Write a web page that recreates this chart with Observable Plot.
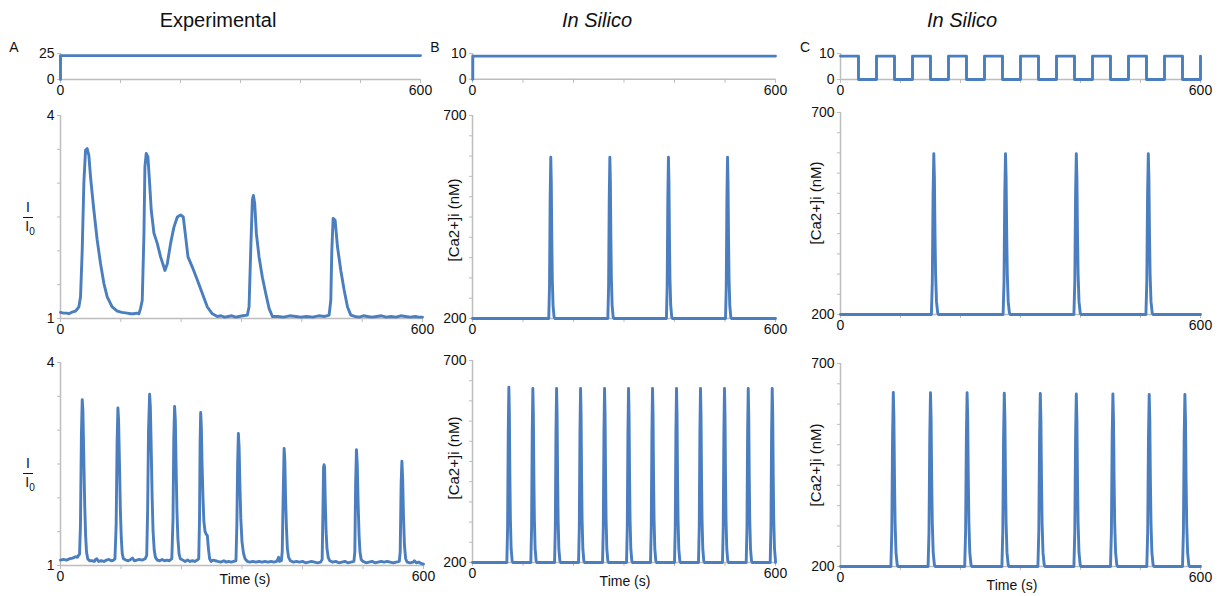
<!DOCTYPE html>
<html><head><meta charset="utf-8">
<script src="https://cdn.jsdelivr.net/npm/d3@7"></script>
<script src="https://cdn.jsdelivr.net/npm/@observablehq/plot@0.6"></script>
<style>
body{margin:0;background:#fff;font-family:"Liberation Sans",Arial,sans-serif;}
#root{position:relative;width:1218px;height:596px;overflow:hidden;background:#fff;}
.abs{position:absolute;color:#111;white-space:nowrap;line-height:1;}
</style></head><body><div id="root"></div>
<script>
// ---------- data ----------
const xTicks = [0, 100, 200, 300, 400, 500, 600];
const xTickLabels = [0, 600];

// stimulus rows [time (s), level]
const stimA = [[0, 0], [0, 23], [600, 23]];
const stimB = [[0, 0], [0.5, 0], [0.5, 9], [600, 9]];
const stimC = [[0, 9], [30, 0], [60, 9], [90, 0], [120, 9], [150, 0], [180, 9], [210, 0], [240, 9], [270, 0],
  [300, 9], [330, 0], [360, 9], [390, 0], [420, 9], [450, 0], [480, 9], [510, 0], [540, 9], [570, 0], [600, 9]];

// experimental traces I/I0 [time (s), ratio]
const expMid = [[0,1.09],[5,1.08],[11,1.08],[13.8,1.07],[18,1.09],[24.9,1.11],[30.4,1.17],[33.2,1.32],[36,2.01],[38.7,3.0],[41.5,3.49],[44.2,3.51],[47,3.41],[49.8,3.09],[55.3,2.6],[60.8,2.16],[66.4,1.81],[71.9,1.52],[77.4,1.32],[85.7,1.17],[94,1.11],[102,1.09],[110.6,1.08],[116,1.07],[121.7,1.07],[126,1.08],[130,1.07],[132.7,1.15],[135.5,1.27],[138.3,2.25],[139.9,3.24],[142.1,3.44],[144.9,3.39],[147.7,3.0],[150.4,2.6],[154.9,2.26],[160.4,2.11],[165.9,1.91],[173.1,1.71],[177,1.81],[182.5,2.11],[188,2.35],[193.6,2.5],[199.1,2.53],[203.5,2.5],[207.4,2.21],[211.3,1.91],[218.5,1.76],[226.8,1.57],[235.1,1.37],[243.4,1.17],[251.7,1.07],[260,1.03],[266,1.04],[272,1.02],[278,1.03],[284,1.04],[290,1.02],[296,1.03],[302,1.04],[309.7,1.05],[312.5,1.17],[315.3,2.01],[318,2.75],[319.7,2.82],[321.9,2.7],[324.7,2.25],[329.1,1.91],[334.6,1.61],[340.2,1.37],[345.7,1.15],[351.2,1.03],[360,1.03],[370,1.02],[380,1.04],[390,1.03],[398,1.02],[408,1.03],[418,1.02],[428,1.04],[438,1.03],[445.2,1.05],[448,1.27],[449.7,2.01],[451.9,2.48],[455.2,2.45],[459.1,2.06],[464.6,1.71],[470.1,1.42],[475.7,1.17],[481.2,1.05],[488,1.03],[495,1.02],[502,1.04],[508.8,1.03],[516,1.02],[524,1.03],[532,1.04],[540,1.02],[548,1.03],[556,1.02],[564,1.04],[572,1.03],[580,1.02],[588,1.03],[594,1.02],[600,1.02]];

const expBot = [[0,1.08],[5,1.09],[10,1.08],[15,1.10],[20,1.11],[25,1.13],[28,1.12],[30,1.15],[31.5,1.17],
[33,1.6],[34.5,2.9],[35.9,3.45],[37,3.3],[38.5,2.6],[40,1.9],[41.5,1.45],[43,1.2],[45,1.1],[48,1.07],[52,1.07],[56,1.06],[58,1.09],[60,1.10],[63,1.06],[67,1.07],[72,1.06],[76,1.08],[80,1.09],[84,1.07],[88,1.08],[90,1.1],
[92,1.6],[93.5,2.8],[94.9,3.33],[96,3.15],[97.5,2.5],[99,1.8],[100.5,1.4],[102,1.18],[104,1.1],[108,1.08],[112,1.07],[116,1.09],[119,1.11],[122,1.07],[126,1.08],[130,1.09],[135,1.08],[140,1.1],[142.5,1.15],
[144,1.8],[145.5,3.0],[147.3,3.53],[148.5,3.35],[150,2.7],[151.5,2.0],[153,1.5],[155,1.22],[157,1.12],[160,1.08],[164,1.07],[168,1.09],[172,1.07],[176,1.08],[180,1.07],[184,1.1],
[186,1.7],[187.3,2.9],[188.6,3.35],[189.8,3.15],[191,2.5],[192.5,1.8],[194,1.4],[196,1.17],[198,1.1],[202,1.08],[206,1.06],[210,1.08],[214,1.06],[218,1.07],[222,1.06],[226,1.08],[228.5,1.1],
[229.8,1.7],[230.7,2.8],[231.7,3.26],[232.8,3.05],[234,2.5],[235.5,2.0],[237,1.65],[239,1.5],[241,1.46],[242.7,1.44],[244.5,1.25],[246.5,1.1],[249,1.06],[252,1.08],[256,1.07],[260,1.06],[265,1.05],[270,1.07],[274,1.05],[278,1.06],[282,1.05],[286,1.06],[290,1.07],
[291.5,1.6],[292.8,2.5],[294,2.95],[295.2,2.75],[296.5,2.2],[298,1.7],[300,1.35],[302.5,1.18],[305,1.1],[309,1.06],[313,1.05],[318,1.06],[323,1.05],[328,1.06],[333,1.05],[338,1.06],[343,1.05],[348,1.06],[353,1.05],[357,1.06],[359,1.09],[360.5,1.12],[362,1.06],[365,1.07],[366.5,1.2],
[368,2.0],[369.6,2.73],[370.8,2.55],[372,2.0],[373.5,1.55],[375,1.25],[377,1.12],[380,1.07],[385,1.05],[390,1.06],[395,1.05],[400,1.06],[405,1.04],[410,1.05],[415,1.06],[420,1.05],[425,1.04],[430,1.05],[432.5,1.09],
[433.8,1.8],[434.8,2.45],[435.7,2.49],[436.5,2.45],[437.5,2.0],[439,1.5],[440.5,1.25],[442.5,1.12],[445,1.07],[450,1.05],[455,1.06],[460,1.04],[465,1.05],[470,1.06],[475,1.04],[480,1.05],[485,1.06],[486.5,1.2],
[487.8,2.2],[489.2,2.71],[490.5,2.5],[492,1.9],[493.5,1.45],[495,1.2],[497,1.09],[500,1.06],[505,1.04],[510,1.05],[515,1.06],[520,1.04],[525,1.05],[530,1.06],[535,1.05],[540,1.06],[545,1.05],[550,1.04],[555,1.05],[560,1.06],[561.5,1.2],
[563,2.2],[564.3,2.54],[565.5,2.3],[567,1.7],[568.5,1.3],[570.5,1.1],[573,1.05],[578,1.04],[583,1.05],[585,1.07],[588,1.04],[592,1.05],[596,1.03],[600,1.02]];

// in silico spikes: peak times (s) and peak [Ca2+]i (nM), baseline 200 nM
const silicoBase = 200;
const bMidPeakT = [155, 272, 388, 505];
const bMidPeakV = [597, 597, 597, 597];
const cMidPeakT = [155.5, 275, 393, 513];
const cMidPeakV = [598, 598, 598, 598];
const bBotPeakT = [72, 119.5, 166.5, 214, 261.5, 309, 356.5, 404, 451.5, 499, 546, 593.5];
const bBotPeakV = [634, 631, 631, 631, 631, 631, 631, 631, 631, 631, 631, 631];
const cBotPeakT = [88, 150, 211, 273, 333, 393, 454, 514.5, 574];
const cBotPeakV = [629, 628, 628, 627, 626, 625, 625, 624, 624];
// spike shape: offset (s) from peak, fraction of peak amplitude
const spikeDt   = [-4, -2.5, -1.2, 0, 1, 2, 3, 4.5, 6.5, 8];
const spikeFrac = [0, 0.2, 0.75, 1, 0.85, 0.5, 0.25, 0.08, 0.01, 0];

// ---------- build tables ----------
const pairs = a => a.map(([t, v]) => ({t, v}));
function spikeTable(times, peaks) {
  const rows = [{t: 0, v: silicoBase}];
  times.forEach((tp, i) => {
    spikeDt.forEach((dt, j) => rows.push({t: tp + dt, v: silicoBase + spikeFrac[j] * (peaks[i] - silicoBase)}));
  });
  rows.push({t: 600, v: silicoBase});
  return rows.filter(d => d.t >= 0 && d.t <= 600);
}

const blue = "#4a7ebf";
const grey = "#bdbdbd";
const root = document.getElementById("root");

function panel(g) {
  const mL = 45, mR = 25, mT = 12, mB = 26;
  const W = g.x1 - g.x0 + mL + mR, H = g.yb - g.yt + mT + mB;
  const svg = Plot.plot({
    width: W, height: H,
    marginLeft: mL, marginRight: mR, marginTop: mT, marginBottom: mB,
    x: {domain: [0, 600]},
    y: {domain: g.yd},
    style: {fontFamily: "'Liberation Sans', Arial, sans-serif", fontSize: "14px", background: "transparent", overflow: "visible", color: "#111"},
    marks: [
      Plot.ruleY([g.yd[0]], {stroke: grey, strokeWidth: 1.5}),
      Plot.ruleX([0], {y1: g.yd[0], y2: g.yd[1], stroke: grey, strokeWidth: 1.5}),
      Plot.axisX({ticks: xTicks, tickFormat: d => xTickLabels.includes(d) ? String(d) : "", tickSize: 4, tickPadding: 2, stroke: grey, fill: "#111", fontSize: 14, label: null}),
      Plot.axisY({ticks: g.yticks, tickFormat: d => g.ylabels.includes(d) ? String(d) : "", tickSize: 3, tickPadding: 3, stroke: grey, fill: "#111", fontSize: 14, label: null}),
      Plot.line(g.data, {x: "t", y: "v", stroke: blue, strokeWidth: 2.9, curve: g.curve || "linear"})
    ]
  });
  svg.style.position = "absolute";
  svg.style.left = (g.x0 - mL) + "px";
  svg.style.top = (g.yt - mT) + "px";
  root.appendChild(svg);
}

function label(html, cx, cy, css) {
  const d = document.createElement("div");
  d.className = "abs";
  d.innerHTML = html;
  d.style.left = cx + "px";
  d.style.top = cy + "px";
  d.style.transform = "translate(-50%,-50%)" + (css && css.rotate ? " rotate(-90deg)" : "");
  d.style.fontSize = (css && css.size ? css.size : 14) + "px";
  if (css && css.italic) d.style.fontStyle = "italic";
  root.appendChild(d);
}

const caTicks = d3.range(200, 701, 50);
const ratioTicks = d3.range(1, 4.01, 0.5);

// row 1: stimulus
panel({x0: 60, x1: 420, yb: 79, yt: 53, yd: [0, 25], yticks: [0, 25], ylabels: [0, 25], data: pairs(stimA)});
panel({x0: 472, x1: 775, yb: 78.5, yt: 52.7, yd: [0, 10], yticks: [0, 10], ylabels: [0, 10], data: pairs(stimB)});
panel({x0: 840, x1: 1200, yb: 79, yt: 53, yd: [0, 10], yticks: [0, 10], ylabels: [0, 10], data: pairs(stimC), curve: "step-after"});
// row 2
panel({x0: 60, x1: 422, yb: 318, yt: 115, yd: [1, 4], yticks: ratioTicks, ylabels: [1, 4], data: pairs(expMid)});
panel({x0: 472, x1: 775, yb: 318, yt: 115, yd: [200, 700], yticks: caTicks, ylabels: [200, 700], data: spikeTable(bMidPeakT, bMidPeakV)});
panel({x0: 840, x1: 1200, yb: 314, yt: 112, yd: [200, 700], yticks: caTicks, ylabels: [200, 700], data: spikeTable(cMidPeakT, cMidPeakV)});
// row 3
panel({x0: 60, x1: 423, yb: 565, yt: 362, yd: [1, 4], yticks: ratioTicks, ylabels: [1, 4], data: pairs(expBot)});
panel({x0: 472, x1: 775, yb: 562, yt: 360, yd: [200, 700], yticks: caTicks, ylabels: [200, 700], data: spikeTable(bBotPeakT, bBotPeakV)});
panel({x0: 840, x1: 1200, yb: 566, yt: 363, yd: [200, 700], yticks: caTicks, ylabels: [200, 700], data: spikeTable(cBotPeakT, cBotPeakV)});

// titles and labels
label("Experimental", 218, 20, {size: 20});
label("In Silico", 597, 20, {size: 20, italic: true});
label("In Silico", 962, 20, {size: 20, italic: true});
label("A", 14, 47, {size: 14});
label("B", 435, 47, {size: 14});
label("C", 805, 47, {size: 14});
label("[Ca2+]i (nM)", 453, 220, {size: 15, rotate: true});
label("[Ca2+]i (nM)", 815, 203, {size: 15, rotate: true});
label("[Ca2+]i (nM)", 453, 458, {size: 15, rotate: true});
label("[Ca2+]i (nM)", 815, 465, {size: 15, rotate: true});
label("Time (s)", 245, 579, {size: 14});
label("Time (s)", 625, 581, {size: 14});
label("Time (s)", 1012, 585, {size: 14});

function fraction(cx, cy) {
  label("I", cx, cy - 10, {size: 14});
  const bar = document.createElement("div");
  bar.style.cssText = `position:absolute;left:${cx - 5}px;top:${cy}px;width:10px;height:1px;background:#111;`;
  root.appendChild(bar);
  label("I<sub style='font-size:10px'>0</sub>", cx + 2, cy + 11, {size: 14});
}
fraction(28, 217);
fraction(28, 473);
</script></body></html>
